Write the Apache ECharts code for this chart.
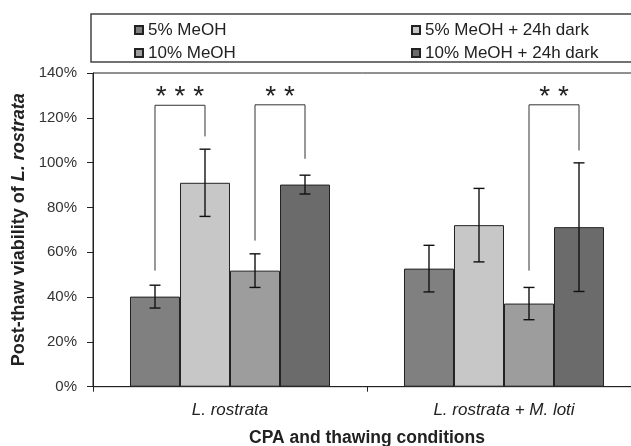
<!DOCTYPE html>
<html><head><meta charset="utf-8">
<script src="https://cdn.jsdelivr.net/npm/echarts@6/dist/echarts.min.js"></script>
<style>html,body{margin:0;padding:0;background:#fff}#c{width:631px;height:446px}</style>
</head><body><div id="c"></div>
<script>
// ---- data ----
const categories = ['L. rostrata', 'L. rostrata + M. loti'];
const seriesNames = ['5% MeOH', '5% MeOH + 24h dark', '10% MeOH', '10% MeOH + 24h dark'];
const meoh5 = [40.2, 52.7];
const meoh5Dark = [91.0, 72.1];
const meoh10 = [51.8, 37.1];
const meoh10Dark = [90.2, 71.2];
const err5 = [5.1, 10.4];
const err5Dark = [15.0, 16.4];
const err10 = [7.5, 7.2];
const err10Dark = [4.2, 28.7];
const yMin = 0, yMax = 140, yStep = 20;
// significance brackets
const sigCategory = [0, 0, 1];
const sigBarA = [0, 2, 2];
const sigBarB = [1, 3, 3];
const sigEndA = [51.8, 65.2, 51.8];
const sigEndB = [111.7, 101.7, 105.4];
const sigTop = [125.6, 125.8, 125.8];
const sigLabels = ['* * *', '* *', '* *'];

const values = [meoh5, meoh5Dark, meoh10, meoh10Dark];
const errors = [err5, err5Dark, err10, err10Dark];
const colors = ['#808080', '#c6c7c6', '#9c9d9c', '#6b6b6b'];
const FONT = '"Liberation Sans", Arial, sans-serif';
const GAP = 0.27;

const chart = echarts.init(document.getElementById('c'), null, {renderer: 'canvas'});

function barX(api, cat, idx) {
  const band = api.size([1, 0])[0];
  const barW = band * (1 - GAP) / 4;
  const c = api.coord([cat, 0]);
  return c[0] + (idx - 1.5) * barW;
}

function errRender(params, api) {
  const cat = api.value(0), val = api.value(1), err = api.value(2), idx = api.value(3);
  const x = barX(api, cat, idx);
  const top = api.coord([cat, val + err])[1];
  const bot = api.coord([cat, val - err])[1];
  const hw = 5.5;
  const style = {stroke: '#111', lineWidth: 1.4};
  return {type: 'group', children: [
    {type: 'line', shape: {x1: x, y1: top, x2: x, y2: bot}, style},
    {type: 'line', shape: {x1: x - hw, y1: top, x2: x + hw, y2: top}, style},
    {type: 'line', shape: {x1: x - hw, y1: bot, x2: x + hw, y2: bot}, style}
  ]};
}

function sigRender(params, api) {
  const cat = api.value(0), a = api.value(1), b = api.value(2);
  const ea = api.value(3), eb = api.value(4), t = api.value(5);
  const xa = barX(api, cat, a), xb = barX(api, cat, b);
  const ya = api.coord([cat, ea])[1], yb = api.coord([cat, eb])[1], yt = api.coord([cat, t])[1];
  return {type: 'group', children: [
    {type: 'polyline', shape: {points: [[xa, ya], [xa, yt], [xb, yt], [xb, yb]]},
     style: {stroke: '#333', lineWidth: 1, fill: null}},
    {type: 'text', style: {text: sigLabels[params.dataIndex], x: (xa + xb) / 2, y: yt - 8,
      align: 'center', verticalAlign: 'middle', fontSize: 28, fontFamily: FONT, fill: '#222'}}
  ]};
}

const errData = [];
values.forEach((vals, i) => vals.forEach((v, j) => errData.push([j, v, errors[i][j], i])));
const sigData = sigCategory.map((c, k) => [c, sigBarA[k], sigBarB[k], sigEndA[k], sigEndB[k], sigTop[k]]);

const option = {
  animation: false,
  backgroundColor: '#fff',
  textStyle: {fontFamily: FONT},
  grid: {left: 93, right: -10, top: 73, bottom: 59.3, show: true, borderColor: '#222', borderWidth: 1,
    backgroundColor: 'transparent', containLabel: false, outerBoundsMode: 'none'},
  legend: seriesNames.map((n, i) => ({
    data: [n], selectedMode: false, padding: 0, icon: 'rect',
    left: i % 2 ? 411 : 134, top: i < 2 ? 21.5 : 44.5,
    itemWidth: 8, itemHeight: 8,
    textStyle: {fontSize: 17, color: '#222', fontFamily: FONT}
  })),
  graphic: [{type: 'rect', shape: {x: 91, y: 14, width: 600, height: 48},
    style: {fill: null, stroke: '#444', lineWidth: 1.5}, silent: true}],
  xAxis: {
    type: 'category', data: categories,
    axisLine: {lineStyle: {color: '#222', width: 1}},
    axisTick: {show: true, length: 5, lineStyle: {color: '#222'}},
    axisLabel: {fontStyle: 'italic', fontSize: 17, color: '#222', margin: 15, fontFamily: FONT},
    name: 'CPA and thawing conditions', nameLocation: 'middle', nameGap: 42,
    nameTextStyle: {fontWeight: 'bold', fontSize: 17.5, color: '#222', fontFamily: FONT}
  },
  yAxis: {
    type: 'value', min: yMin, max: yMax, interval: yStep,
    axisLine: {show: true, lineStyle: {color: '#222', width: 1}},
    axisTick: {show: true, length: 6, lineStyle: {color: '#222'}},
    splitLine: {show: false},
    axisLabel: {formatter: v => v + '%', fontSize: 15, color: '#333', margin: 16, fontFamily: FONT},
    name: '{b|Post-thaw viability of }{bi|L. rostrata}', nameLocation: 'middle', nameRotate: 90, nameGap: 57,
    nameTextStyle: {rich: {
      b: {fontWeight: 'bold', fontSize: 18, color: '#222', fontFamily: FONT},
      bi: {fontWeight: 'bold', fontStyle: 'italic', fontSize: 18, color: '#222', fontFamily: FONT}
    }}
  },
  series: [
    ...values.map((vals, i) => ({
      type: 'bar', name: seriesNames[i], data: vals,
      barGap: '0%', barCategoryGap: (GAP * 100) + '%',
      itemStyle: {color: colors[i], borderColor: '#222', borderWidth: 1},
      silent: true
    })),
    {type: 'custom', name: 'err', renderItem: errRender, data: errData, z: 3, silent: true, encode: {x: 0, y: 1}},
    {type: 'custom', name: 'sig', renderItem: sigRender, data: sigData, z: 3, silent: true, encode: {x: 0, y: 5}}
  ]
};
chart.setOption(option);
</script>
</body></html>
